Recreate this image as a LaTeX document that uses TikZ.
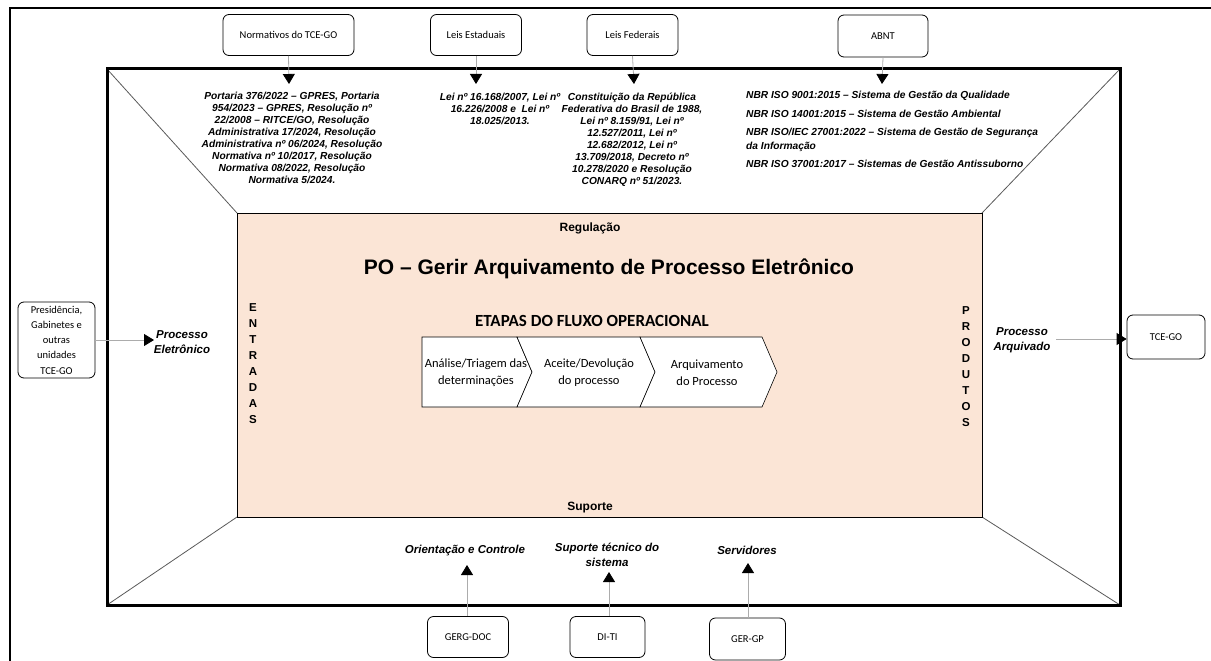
\documentclass[tikz,border=0pt]{standalone}
\usepackage{fontspec}
\setmainfont{Liberation Sans}
\newfontfamily\calfont{Carlito}
\usetikzlibrary{arrows.meta}
\definecolor{pinkbg}{HTML}{FBE5D6}
\begin{document}
\begin{tikzpicture}[x=1pt,y=-1pt,
  box/.style={draw=black, line width=0.8pt, rounded corners=6pt, fill=white,
    font=\calfont\fontsize{10.5}{15.2}\selectfont, align=center, inner sep=0pt},
  arr/.style={draw=gray!65, line width=0.8pt, -{Triangle[length=10pt,width=12pt,color=black]}},
  diag/.style={draw=black!65, line width=0.8pt},
  lst/.style={font=\bfseries\itshape\fontsize{10.2}{12}\selectfont, align=center, inner sep=0pt},
  lbl/.style={font=\bfseries\itshape\fontsize{11.5}{15}\selectfont, align=center, inner sep=0pt},
  vert/.style={font=\bfseries\fontsize{11.5}{16}\selectfont, align=center, inner sep=0pt},
  chev/.style={draw=black, line width=0.6pt, fill=white},
  chevtxt/.style={font=\calfont\fontsize{12.5}{17}\selectfont, align=center, inner sep=0pt}
]
\useasboundingbox (0,0) rectangle (1211,661);
% outer frame (cut by the page at right and bottom)
\draw[line width=2pt] (10,8) rectangle (1230,690);
% corner coordinates
\coordinate (oTL) at (107,69);
\coordinate (oTR) at (1120,69);
\coordinate (oBL) at (107,605);
\coordinate (oBR) at (1120,605);
\coordinate (pTL) at (237,213);
\coordinate (pTR) at (982,213);
\coordinate (pBL) at (237,517);
\coordinate (pBR) at (982,517);
% diagonals
\draw[diag] (oTL) -- (pTL);
\draw[diag] (oTR) -- (pTR);
\draw[diag] (oBL) -- (pBL);
\draw[diag] (oBR) -- (pBR);
% pink core
\draw[fill=pinkbg, draw=black, line width=0.8pt] (pTL) rectangle (pBR);
% inner frame
\draw[line width=3pt] (oTL) rectangle (oBR);

% top boxes
\node[box, minimum width=131pt, minimum height=41pt] (norm) at (288.5,35) {Normativos do TCE-GO};
\node[box, minimum width=91pt, minimum height=41pt] (est) at (476,35) {Leis Estaduais};
\node[box, minimum width=91pt, minimum height=41pt] (fed) at (632.5,35) {Leis Federais};
\node[box, minimum width=90pt, minimum height=42pt] (abnt) at (883,36) {ABNT};

\coordinate (tNorm) at (289,84);
\coordinate (tEst) at (476,84);
\coordinate (tFed) at (634,84);
\coordinate (tAbnt) at (882,84);
\draw[arr] (norm.south) -- (tNorm);
\draw[arr] (est.south) -- (tEst);
\draw[arr] (fed.south) -- (tFed);
\draw[arr] (abnt.south) -- (tAbnt);

\node[lst] (portaria) at (292,138) {Portaria 376/2022 -- GPRES, Portaria\\954/2023 -- GPRES, Resolução nº\\22/2008 -- RITCE/GO, Resolução\\Administrativa 17/2024, Resolução\\Administrativa nº 06/2024, Resolução\\Normativa nº 10/2017, Resolução\\Normativa 08/2022, Resolução\\Normativa 5/2024.};
\node[lst] (leisest) at (500,109) {Lei nº 16.168/2007, Lei nº\\16.226/2008 e~~Lei nº\\18.025/2013.};
\node[lst] (leisfed) at (632,140) {Constituição da República\\Federativa do Brasil de 1988,\\Lei nº 8.159/91, Lei nº\\12.527/2011, Lei nº\\12.682/2012, Lei nº\\13.709/2018, Decreto nº\\10.278/2020 e Resolução\\CONARQ nº 51/2023.};
\node[lst, align=left, anchor=north west, font=\bfseries\itshape\fontsize{10.2}{13.5}\selectfont] (nbr) at (746,91) {NBR ISO 9001:2015 -- Sistema de Gestão da Qualidade\\[5pt]NBR ISO 14001:2015 -- Sistema de Gestão Ambiental\\[5pt]NBR ISO/IEC 27001:2022 -- Sistema de Gestão de Segurança\\da Informação\\[5pt]NBR ISO 37001:2017 -- Sistemas de Gestão Antissuborno};

% core texts
\node[font=\bfseries\fontsize{12}{14}\selectfont, inner sep=0pt] (reg) at (590,228) {Regulação};
\node[font=\bfseries\fontsize{21}{24}\selectfont, inner sep=0pt] (title) at (609,269) {PO -- Gerir Arquivamento de Processo Eletrônico};
\node[font=\calfont\bfseries\fontsize{17}{20}\selectfont, inner sep=0pt] (etapas) at (592,321) {ETAPAS DO FLUXO OPERACIONAL};
\node[font=\bfseries\fontsize{12}{14}\selectfont, inner sep=0pt] (sup) at (590,508) {Suporte};
\node[vert] (ent) at (253,364) {E\\N\\T\\R\\A\\D\\A\\S};
\node[vert] (prod) at (966,367) {P\\R\\O\\D\\U\\T\\O\\S};

% chevrons
\draw[chev] (422,337) -- (517,337) -- (532,372) -- (517,407) -- (422,407) -- cycle;
\draw[chev] (517,337) -- (640,337) -- (655,372) -- (640,407) -- (517,407) -- (532,372) -- cycle;
\draw[chev] (640,337) -- (762,337) -- (777,372) -- (762,407) -- (640,407) -- (655,372) -- cycle;
\node[chevtxt] (c1) at (476,373) {Análise/Triagem das\\determinações};
\node[chevtxt] (c2) at (589,373) {Aceite/Devolução\\do processo};
\node[chevtxt] (c3) at (707,373) {Arquivamento\\do Processo};

% left input
\node[box, minimum width=77pt, minimum height=76pt] (pres) at (56.5,340) {Presidência,\\Gabinetes e\\outras\\unidades\\TCE-GO};
\coordinate (tIn) at (154,340);
\draw[arr] (pres.east) -- (tIn);
\node[lbl] (procel) at (182,342) {Processo\\Eletrônico};

% right output
\node[box, minimum width=78pt, minimum height=44pt] (tce) at (1166,337) {TCE-GO};
\coordinate (sOut) at (1056,339);
\draw[arr] (sOut) -- (tce.west |- sOut);
\node[lbl] (procar) at (1022,340) {Processo\\Arquivado};

% bottom support
\node[box, minimum width=81pt, minimum height=41pt] (gerg) at (468,637) {GERG-DOC};
\node[box, minimum width=75pt, minimum height=41pt] (diti) at (607.5,637) {DI-TI};
\node[box, minimum width=76pt, minimum height=42pt] (gergp) at (747.5,639) {GER-GP};
\coordinate (tG) at (467,565);
\coordinate (tD) at (609,572);
\coordinate (tP) at (748,563);
\draw[arr] (gerg.north -| tG) -- (tG);
\draw[arr] (diti.north -| tD) -- (tD);
\draw[arr] (gergp.north -| tP) -- (tP);
\node[lbl] (orient) at (465,551) {Orientação e Controle};
\node[lbl] (suptec) at (607,555) {Suporte técnico do\\sistema};
\node[lbl] (serv) at (747,550) {Servidores};
\end{tikzpicture}
\end{document}
